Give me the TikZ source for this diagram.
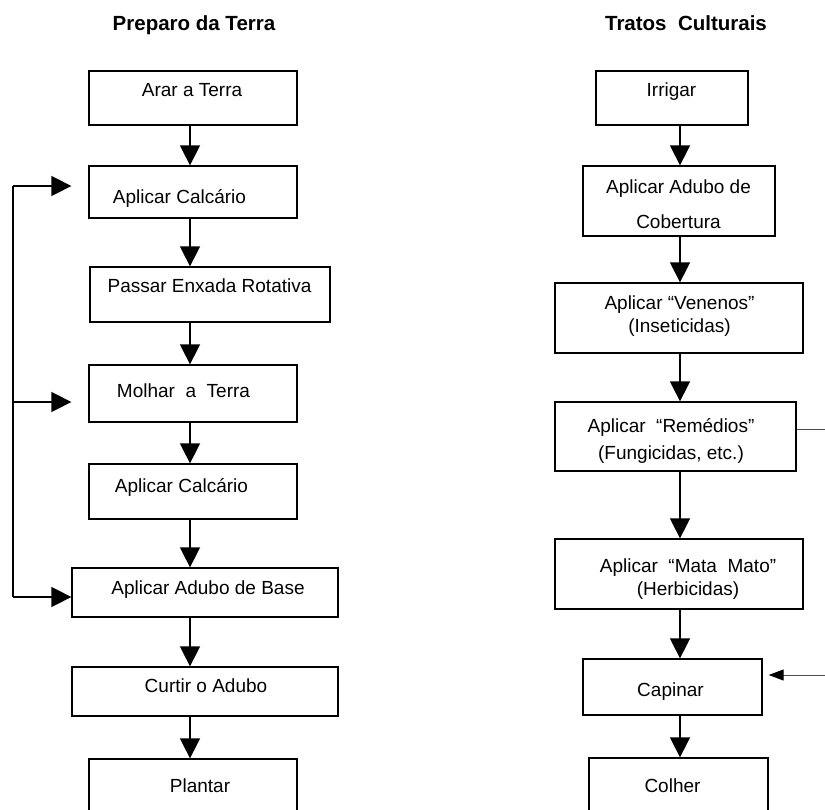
\documentclass[tikz,border=0pt]{standalone}
\usepackage{fontspec}
\setmainfont{Liberation Sans}
\usetikzlibrary{arrows.meta}
\tikzset{
    box/.style = {draw,line width=1.3pt,inner sep=0},
    txt/.style = {anchor=base,inner sep=0,align=center,font=\fontsize{19}{22}\selectfont},
    head/.style = {anchor=base,inner sep=0,font=\fontsize{20.5}{24}\selectfont\bfseries},
    flow/.style = {line width=1.6pt,-{Triangle[length=20pt,width=20pt]}},
    back/.style = {line width=1.6pt},
    note/.style = {line width=0.9pt,draw=black!70},
    noteflow/.style = {note,-{Triangle[length=15pt,width=11pt,black]}}
}

\begin{document}
\begin{tikzpicture}[x=1pt,y=-1pt]
    \clip (0,0) rectangle (825,810);
    % Titles
    \node[head] (prep) at (194,31) {Preparo da Terra};
    \node[head] (trat) at (686,31) {Tratos\ \ Culturais};
    % Preparo da Terra
    \node[box,minimum width=208pt,minimum height=54pt] (a1) at (193,98) {};
    \node[box,minimum width=208pt,minimum height=52pt] (a2) at (193,192) {};
    \node[box,minimum width=240pt,minimum height=55pt] (a3) at (210,294.5) {};
    \node[box,minimum width=208pt,minimum height=57pt] (a4) at (193,393.5) {};
    \node[box,minimum width=208pt,minimum height=55pt] (a5) at (193,491.5) {};
    \node[box,minimum width=266pt,minimum height=49pt] (a6) at (205,592.5) {};
    \node[box,minimum width=266pt,minimum height=49pt] (a7) at (205,691.5) {};
    \node[box,minimum width=208pt,minimum height=54pt] (a8) at (193,786) {};
    \node[txt] (a1t) at (192,97) {Arar a Terra};
    \node[txt] (a2t) at (179.5,204) {Aplicar Calcário};
    \node[txt] (a3t) at (209.5,293) {Passar Enxada Rotativa};
    \node[txt] (a4t) at (183.5,397) {Molhar\ \ a\ \ Terra};
    \node[txt] (a5t) at (181.5,492) {Aplicar Calcário};
    \node[txt] (a6t) at (208,594) {Aplicar Adubo de Base};
    \node[txt] (a7t) at (206,692) {Curtir o Adubo};
    \node[txt] (a8t) at (200,792) {Plantar};
    % Tratos Culturais
    \node[box,minimum width=152pt,minimum height=54pt] (r1) at (672,98) {};
    \node[box,minimum width=192pt,minimum height=70pt] (r2) at (679,201) {};
    \node[box,minimum width=248pt,minimum height=70pt] (r3) at (679,318) {};
    \node[box,minimum width=241pt,minimum height=69pt] (r4) at (675.5,436.5) {};
    \node[box,minimum width=248pt,minimum height=70pt] (r5) at (679,574) {};
    \node[box,minimum width=179pt,minimum height=56pt] (r6) at (672.5,687) {};
    \node[box,minimum width=179pt,minimum height=54pt] (r7) at (678.5,785) {};
    \node[txt] (r1t) at (671.5,97) {Irrigar};
    \node[txt] (r2t) at (678.5,229) {Aplicar Adubo de\\[13pt]Cobertura};
    \node[txt] (r3t) at (679.5,333) {Aplicar “Venenos”\\[1pt](Inseticidas)};
    \node[txt] (r4t) at (671,459) {Aplicar\ \ “Remédios”\\[5pt](Fungicidas, etc.)};
    \node[txt] (r5t) at (688,595) {Aplicar\ \ “Mata\ \ Mato”\\[1pt](Herbicidas)};
    \node[txt] (r6t) at (670.5,696) {Capinar};
    \node[txt] (r7t) at (672.5,792) {Colher};
    % Arrow columns
    \coordinate (lx) at (190,0);
    \coordinate (rx) at (680,0);
    \foreach \src/\dest in {a1/a2,a2/a3,a3/a4,a4/a5,a5/a6,a6/a7,a7/a8}
        \draw[flow] (\src.south -| lx) -- (\dest.north -| lx);
    \foreach \src/\dest in {r1/r2,r2/r3,r3/r4,r4/r5,r5/r6,r6/r7}
        \draw[flow] (\src.south -| rx) -- (\dest.north -| rx);
    % Back loop
    \coordinate (l1) at (13,186);
    \coordinate (l2) at (13,402);
    \coordinate (l3) at (13,597);
    \draw[back] (l1) -- (l3);
    \foreach \src in {l1,l2,l3}
        \draw[flow] (\src) -- (a6.west |- \src);
    % Side links
    \coordinate (s1) at (825,429);
    \coordinate (s2) at (825,675);
    \draw[note] (r4.east |- s1) -- (s1);
    \draw[noteflow] (s2) -- (r7.east |- s2);
\end{tikzpicture}
\end{document}
